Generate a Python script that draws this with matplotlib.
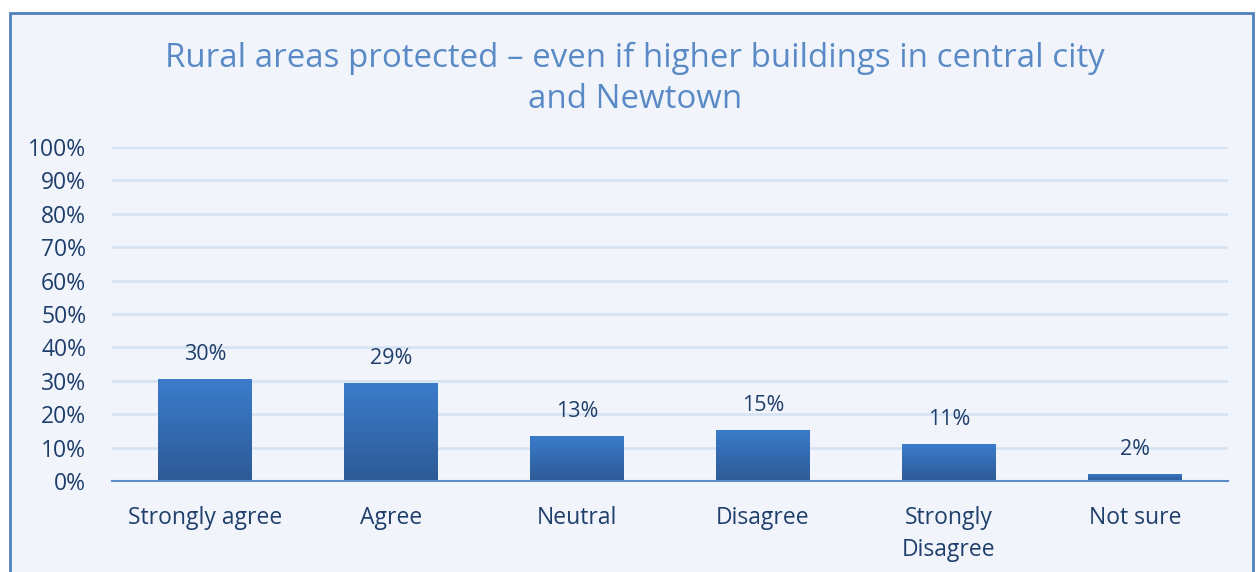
import numpy as np
import matplotlib.pyplot as plt
from matplotlib.colors import LinearSegmentedColormap
from matplotlib.patches import Rectangle

# Survey data (share of responses)
categories = ['Strongly agree', 'Agree', 'Neutral', 'Disagree', 'Strongly\nDisagree', 'Not sure']
values = [30.4, 29.3, 13.4, 15.4, 11.0, 2.1]
labels = ['30%', '29%', '13%', '15%', '11%', '2%']
yticks = list(range(0, 101, 10))

title = 'Rural areas protected \u2013 even if higher buildings in central city\nand Newtown'

bg = '#F1F5FB'
text_col = '#1F3E6B'
plt.rcParams['font.family'] = ['Open Sans', 'DejaVu Sans']

fig = plt.figure(figsize=(12.58, 5.72), dpi=100, facecolor='white')
# chart frame
fig.patches.append(Rectangle((10 / 1258, -0.05), 1243 / 1258, 1 - 13 / 572 + 0.05,
                             transform=fig.transFigure, facecolor=bg,
                             edgecolor='#4F81BD', linewidth=2, zorder=-10))

ax = fig.add_axes([112 / 1258, 1 - 481 / 572, 1116 / 1258, 334 / 572])
ax.set_facecolor('none')

x = np.arange(len(categories))
bars = ax.bar(x, values, width=0.505, color='#3570B8', zorder=3)

# vertical gradient fill for each bar
cmap = LinearSegmentedColormap.from_list('bar', ['#2D5A96', '#3B7CCB'])
grad = np.linspace(0, 1, 256).reshape(-1, 1)
for b in bars:
    im = ax.imshow(grad, cmap=cmap, origin='lower', aspect='auto', zorder=4,
                   extent=(b.get_x(), b.get_x() + b.get_width(), 0, b.get_height()))
    im.set_clip_path(b)

for xi, v, lab in zip(x, values, labels):
    ax.text(xi, v + 4.2, lab, ha='center', va='bottom', fontsize=15.5, color=text_col)

ax.set_xlim(-0.5, len(categories) - 0.5)
ax.set_ylim(0, 100)
ax.set_yticks(yticks)
ax.set_yticklabels([f'{t}%' for t in yticks])
ax.set_xticks(x)
ax.set_xticklabels(categories, linespacing=1.42, va='top')
ax.tick_params(axis='y', length=0, pad=18.5, labelsize=16.5, labelcolor=text_col)
ax.tick_params(axis='x', length=0, pad=18, labelsize=16.5, labelcolor=text_col)

ax.grid(axis='y', color='#D5E2F2', linewidth=1.8, zorder=0)
ax.set_axisbelow(True)
for s in ['top', 'right', 'left']:
    ax.spines[s].set_visible(False)
ax.spines['bottom'].set_color('#5B8CC8')
ax.spines['bottom'].set_linewidth(1.5)
ax.spines['bottom'].set_zorder(5)

fig.text(635 / 1258, 1 - 79 / 572, title, ha='center', va='center', fontsize=23.8,
         color='#5A8AC6', linespacing=1.3)

fig.savefig('out.png', dpi=100, facecolor='white')
